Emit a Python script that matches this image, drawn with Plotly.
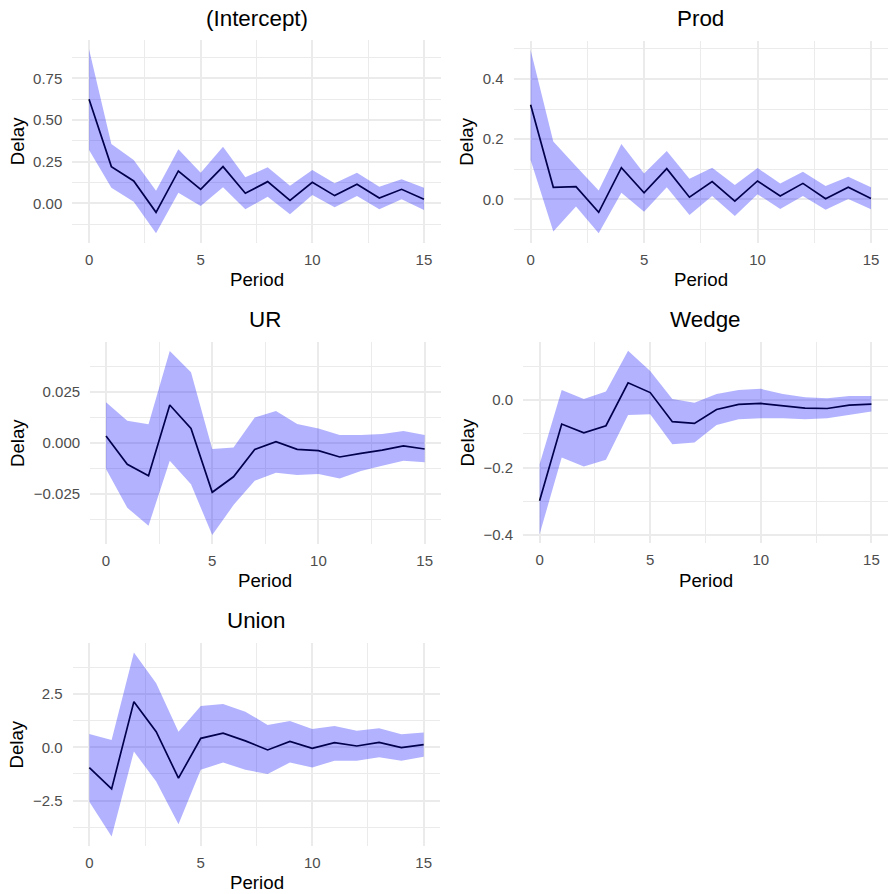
import plotly.graph_objects as go

period = list(range(16))

intercept_est = [0.624, 0.22, 0.134, -0.054, 0.194, 0.084, 0.22, 0.06, 0.13, 0.018, 0.126, 0.046, 0.114, 0.032, 0.084, 0.024]
intercept_upper = [0.924, 0.356, 0.26, 0.076, 0.324, 0.184, 0.34, 0.156, 0.216, 0.106, 0.2, 0.12, 0.184, 0.1, 0.144, 0.094]
intercept_lower = [0.32, 0.094, 0.01, -0.18, 0.064, -0.016, 0.096, -0.036, 0.04, -0.066, 0.05, -0.024, 0.044, -0.036, 0.024, -0.04]

prod_est = [0.314, 0.04, 0.042, -0.043, 0.105, 0.022, 0.102, 0.007, 0.059, -0.006, 0.061, 0.011, 0.053, 0.002, 0.04, 0.003]
prod_upper = [0.496, 0.192, 0.11, 0.029, 0.184, 0.086, 0.161, 0.068, 0.105, 0.048, 0.104, 0.053, 0.092, 0.044, 0.075, 0.04]
prod_lower = [0.131, -0.107, -0.024, -0.113, 0.022, -0.041, 0.04, -0.052, 0.011, -0.055, 0.017, -0.032, 0.011, -0.035, 0.001, -0.033]

ur_est = [0.0033, -0.0106, -0.0162, 0.0185, 0.007, -0.0243, -0.0167, -0.0033, 0.0005, -0.0033, -0.0039, -0.007, -0.0052, -0.0036, -0.0016, -0.0031]
ur_upper = [0.0198, 0.0108, 0.009, 0.0449, 0.0345, -0.0031, -0.0023, 0.0123, 0.0155, 0.0092, 0.007, 0.0038, 0.0038, 0.0042, 0.0057, 0.0038]
ur_lower = [-0.0129, -0.0319, -0.0407, -0.0088, -0.0204, -0.0453, -0.0306, -0.0186, -0.0147, -0.0158, -0.0154, -0.0175, -0.0139, -0.0113, -0.0088, -0.0096]

wedge_est = [-0.298, -0.071, -0.097, -0.076, 0.051, 0.022, -0.064, -0.069, -0.028, -0.013, -0.01, -0.017, -0.024, -0.025, -0.015, -0.012]
wedge_upper = [-0.19, 0.03, 0.003, 0.025, 0.146, 0.086, 0.003, -0.008, 0.018, 0.03, 0.033, 0.018, 0.008, 0.005, 0.012, 0.012]
wedge_lower = [-0.397, -0.17, -0.197, -0.177, -0.044, -0.042, -0.131, -0.126, -0.074, -0.057, -0.054, -0.054, -0.057, -0.054, -0.044, -0.034]

union_est = [-0.95, -1.95, 2.14, 0.73, -1.45, 0.42, 0.66, 0.3, -0.125, 0.27, -0.05, 0.22, 0.06, 0.23, -0.02, 0.125]
union_upper = [0.625, 0.34, 4.44, 3.0, 0.73, 1.94, 2.03, 1.67, 1.05, 1.23, 0.86, 1.0, 0.78, 0.89, 0.61, 0.69]
union_lower = [-2.55, -4.19, -0.2, -1.61, -3.61, -1.06, -0.72, -1.06, -1.25, -0.72, -0.95, -0.63, -0.63, -0.47, -0.63, -0.44]

panel_titles = ["(Intercept)", "Prod", "UR", "Wedge", "Union"]
x_title = "Period"
y_title = "Delay"
x_ticks = [0, 5, 10, 15]

W, H = 888, 894
FONT = "Liberation Sans, Arial, Helvetica, sans-serif"
GRID = "#EBEBEB"

# panel geometry in pixels: (left, right, top, bottom)
panels = [
    dict(est=intercept_est, up=intercept_upper, lo=intercept_lower, box=(72.3, 440.7, 40.1, 242.5), dt=0.25, fmt=".2f", ylab_x=17, title_y=18.5, per_y=279.5),
    dict(est=prod_est, up=prod_upper, lo=prod_lower, box=(513.6, 888, 40.9, 242.5), dt=0.2, fmt=".1f", ylab_x=467, title_y=18.5, per_y=279.5),
    dict(est=ur_est, up=ur_upper, lo=ur_lower, box=(90.1, 440.6, 341.9, 544.3), dt=0.025, fmt=".3f", ylab_x=17, title_y=319.5, per_y=580.5),
    dict(est=wedge_est, up=wedge_upper, lo=wedge_lower, box=(523.0, 888, 341.5, 543.4), dt=0.2, fmt=".1f", ylab_x=467, title_y=319.5, per_y=580.5),
    dict(est=union_est, up=union_upper, lo=union_lower, box=(72.6, 440.4, 643.4, 845.8), dt=2.5, fmt=".1f", ylab_x=17, title_y=620, per_y=882),
]

fig = go.Figure()
annotations = []
layout = {}

for i, (p, title) in enumerate(zip(panels, panel_titles), start=1):
    xa = "x" if i == 1 else f"x{i}"
    ya = "y" if i == 1 else f"y{i}"
    # line first, ribbon on top (as in the original)
    fig.add_trace(go.Scatter(x=period, y=p["est"], mode="lines",
                             line=dict(color="black", width=1.7),
                             xaxis=xa, yaxis=ya, showlegend=False, hoverinfo="skip"))
    fig.add_trace(go.Scatter(x=period + period[::-1], y=p["up"] + p["lo"][::-1],
                             mode="lines", fill="toself", fillcolor="rgba(0,0,255,0.3)",
                             line=dict(width=0, color="rgba(0,0,0,0)"),
                             xaxis=xa, yaxis=ya, showlegend=False, hoverinfo="skip"))
    l, r, t, b = p["box"]
    ymin, ymax = min(p["lo"]), max(p["up"])
    pad = 0.05 * (ymax - ymin)
    xmin, xmax = min(period), max(period)
    xpad = 0.05 * (xmax - xmin)
    common = dict(showline=False, zeroline=False, showgrid=True, gridcolor=GRID, gridwidth=1.6,
                  ticks="outside", tickcolor="rgba(0,0,0,0)",
                  tickfont=dict(family=FONT, size=15, color="#4D4D4D"))
    layout[f"xaxis{i}"] = dict(domain=[l / W, r / W], anchor=ya, range=[xmin - xpad, xmax + xpad],
                               tickmode="array", tickvals=x_ticks, ticklen=3,
                               minor=dict(tickmode="linear", tick0=0, dtick=2.5, showgrid=True,
                                          gridcolor=GRID, gridwidth=0.8, ticks=""),
                               **common)
    layout[f"yaxis{i}"] = dict(domain=[1 - b / H, 1 - t / H], anchor=xa, range=[ymin - pad, ymax + pad],
                               tickmode="linear", tick0=0, dtick=p["dt"], tickformat=p["fmt"], ticklen=6,
                               minor=dict(tickmode="linear", tick0=0, dtick=p["dt"] / 2, showgrid=True,
                                          gridcolor=GRID, gridwidth=0.8, ticks=""),
                               **common)
    cx = (l + r) / 2 / W
    annotations.append(dict(text=title, x=cx, y=1 - p["title_y"] / H, xref="paper", yref="paper",
                            xanchor="center", yanchor="middle", showarrow=False,
                            font=dict(family=FONT, size=22.4, color="black")))
    annotations.append(dict(text=x_title, x=cx, y=1 - p["per_y"] / H, xref="paper", yref="paper",
                            xanchor="center", yanchor="middle", showarrow=False,
                            font=dict(family=FONT, size=18.7, color="black")))
    annotations.append(dict(text=y_title, x=p["ylab_x"] / W, y=1 - (t + b) / 2 / H, xref="paper", yref="paper",
                            xanchor="center", yanchor="middle", showarrow=False, textangle=-90,
                            font=dict(family=FONT, size=18.7, color="black")))

fig.update_layout(width=W, height=H, margin=dict(l=0, r=0, t=0, b=0),
                  paper_bgcolor="white", plot_bgcolor="white",
                  annotations=annotations, **layout)

fig.write_html("out.html", config={"displayModeBar": False},
               post_script="document.body.style.margin='0';document.body.style.overflow='hidden';")
